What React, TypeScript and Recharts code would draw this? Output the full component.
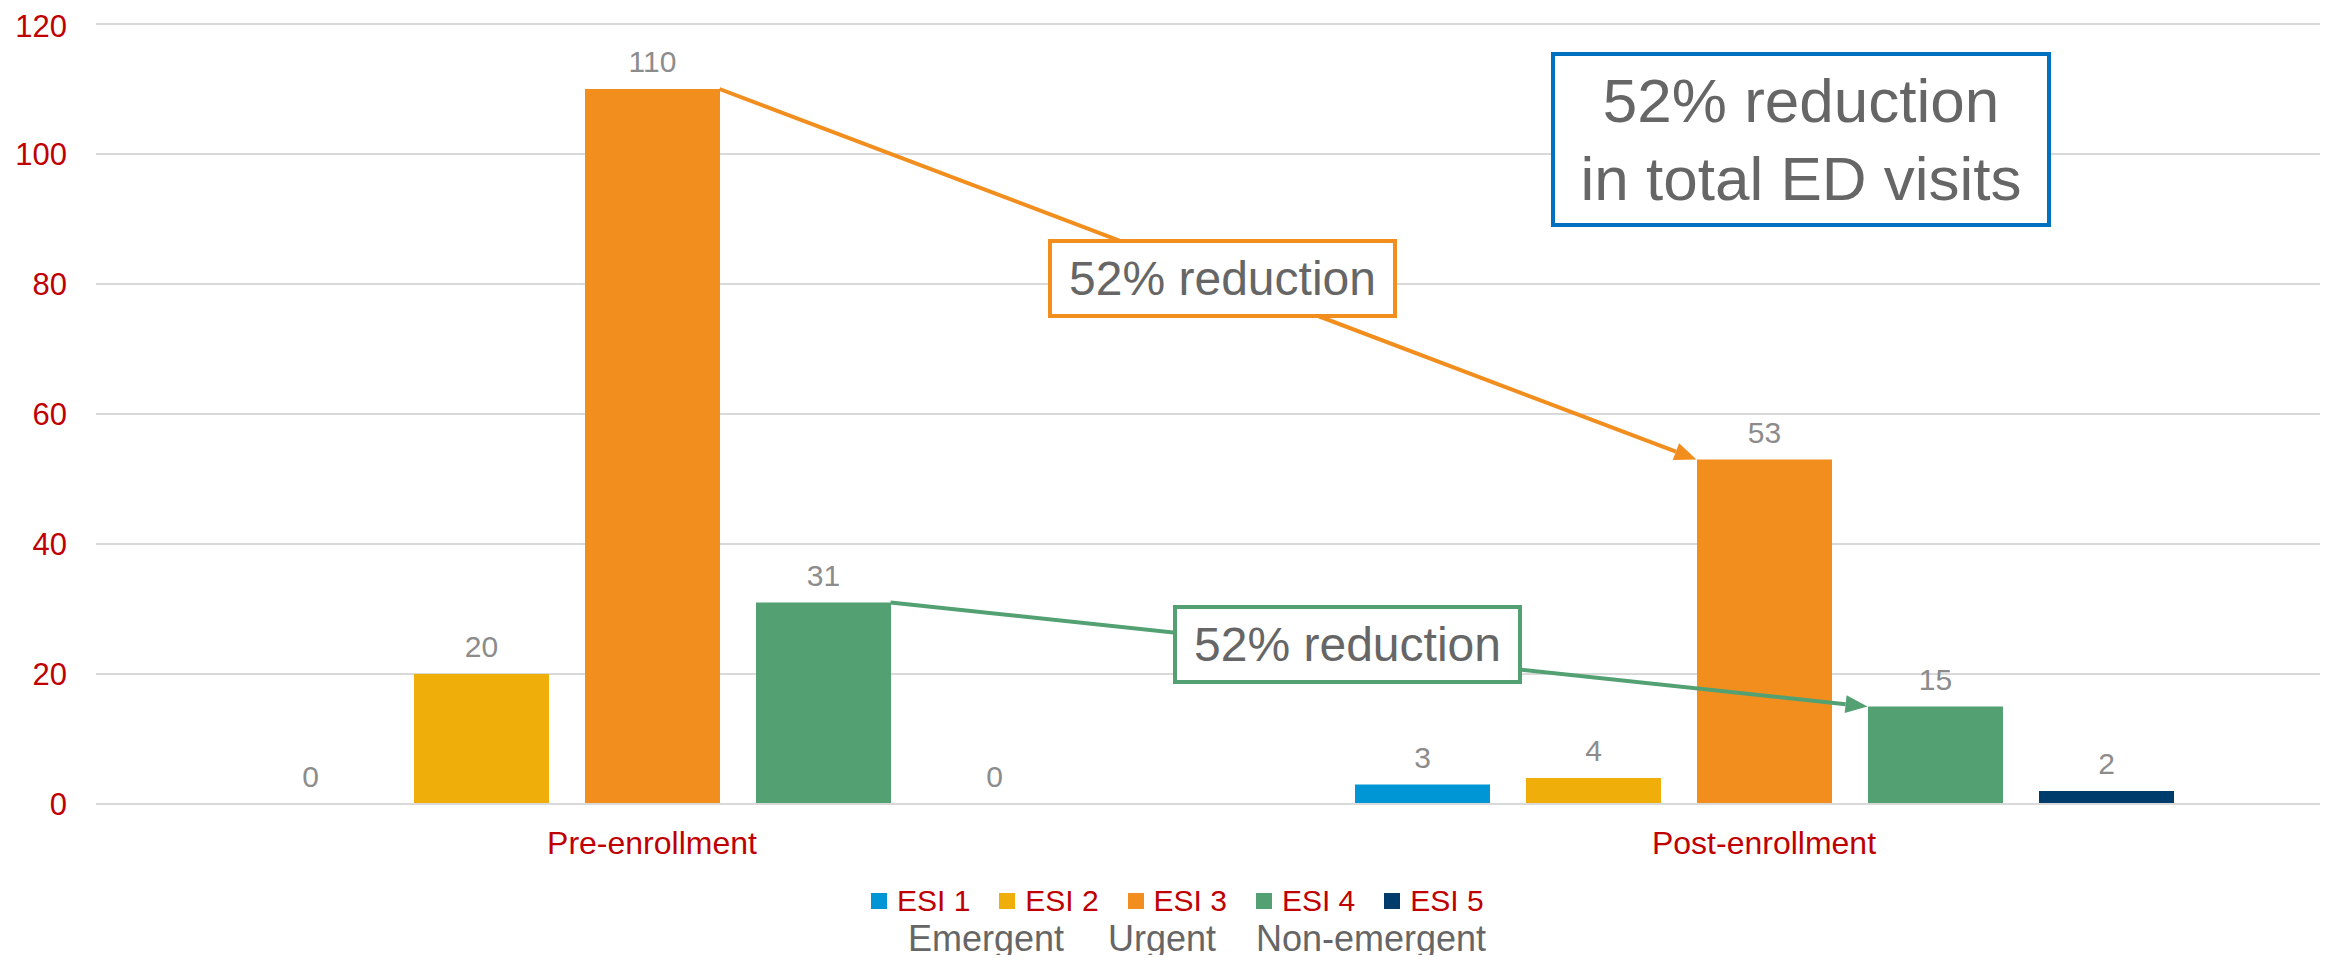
import { BarChart, Bar, XAxis, YAxis, CartesianGrid, LabelList, ReferenceLine } from "recharts";

// ED visits by triage level, before and after enrollment
const categories = ["Pre-enrollment", "Post-enrollment"];
const esi1 = [0, 3];
const esi2 = [20, 4];
const esi3 = [110, 53];
const esi4 = [31, 15];
const esi5 = [0, 2];
const yTicks = [0, 20, 40, 60, 80, 100, 120];

const seriesKeys = ["esi1", "esi2", "esi3", "esi4", "esi5"];
const seriesNames = ["ESI 1", "ESI 2", "ESI 3", "ESI 4", "ESI 5"];
const seriesColors = ["#0096D6", "#EFAE0A", "#F28E1E", "#53A173", "#003C6B"];
const groupNames = ["Emergent", "Urgent", "Non-emergent"];

const rows = categories.map((name, i) => ({
  name,
  esi1: esi1[i],
  esi2: esi2[i],
  esi3: esi3[i],
  esi4: esi4[i],
  esi5: esi5[i],
}));

const W = 2315;
const H = 947;
const MARGIN = { top: 16, right: 3, bottom: 91, left: 0 };
const Y_AXIS_W = 88;
const BAR_SIZE = 135;
const BAR_GAP = 36;

const RED = "#C00000";
const GRAY_TEXT = "#666666";
const FONT = '"Liberation Sans", Arial, sans-serif';

// horizontal offset from the category centre to one edge of a bar
function edgeOffset(series: number, side: -1 | 1) {
  return (series - 2) * (BAR_SIZE + BAR_GAP) + side * (BAR_SIZE / 2);
}

function Arrow(props: any) {
  const { color, fromDx, toDx } = props;
  const x1 = props.x1 + fromDx;
  const y1 = props.y1;
  const x2 = props.x2 + toDx;
  const y2 = props.y2;
  const dx = x2 - x1;
  const dy = y2 - y1;
  const len = Math.hypot(dx, dy) || 1;
  const ux = dx / len;
  const uy = dy / len;
  const head = 22;
  const half = 9;
  const bx = x2 - ux * head;
  const by = y2 - uy * head;
  return (
    <g>
      <line x1={x1} y1={y1} x2={bx} y2={by} stroke={color} strokeWidth={4} />
      <polygon
        points={`${x2},${y2} ${bx - uy * half},${by + ux * half} ${bx + uy * half},${by - ux * half}`}
        fill={color}
      />
    </g>
  );
}

// value label above each bar, zero values included
function ValueLabel(props: any) {
  const { x, y, width, value } = props;
  if (value === undefined || value === null) return null;
  return (
    <text x={x + width / 2} y={y - 17} textAnchor="middle" fill="#8C8C8C" fontSize={30} fontFamily={FONT}>
      {value}
    </text>
  );
}

function NoteBox({ left, top, width, height, color, fontSize, lineHeight, lines }: any) {
  return (
    <div
      style={{
        position: "absolute",
        left,
        top,
        width,
        height,
        boxSizing: "border-box",
        border: `4px solid ${color}`,
        background: "#ffffff",
        display: "flex",
        flexDirection: "column",
        alignItems: "center",
        justifyContent: "center",
        color: GRAY_TEXT,
        fontFamily: FONT,
        fontSize,
        lineHeight: `${lineHeight}px`,
        whiteSpace: "nowrap",
      }}
    >
      {lines.map((t: string, i: number) => (
        <div key={i}>{t}</div>
      ))}
    </div>
  );
}

export default function App() {
  return (
    <div style={{ position: "relative", width: W, height: H, fontFamily: FONT }}>
      <BarChart width={W} height={H} data={rows} margin={MARGIN} barSize={BAR_SIZE} barGap={BAR_GAP}>
        <CartesianGrid vertical={false} stroke="#D9D9D9" strokeWidth={2} />
        <XAxis
          dataKey="name"
          axisLine={{ stroke: "#D9D9D9", strokeWidth: 2 }}
          tickLine={false}
          tickSize={0}
          tickMargin={27}
          height={60}
          tick={{ fill: RED, fontSize: 32, fontFamily: FONT }}
        />
        <YAxis
          width={Y_AXIS_W}
          domain={[0, 120]}
          ticks={yTicks}
          axisLine={false}
          tickLine={false}
          tickSize={0}
          tickMargin={29}
          tick={{ fill: RED, fontSize: 31, fontFamily: FONT }}
        />
        {seriesKeys.map((key, i) => (
          <Bar
            key={key}
            dataKey={key}
            name={seriesNames[i]}
            fill={seriesColors[i]}
            minPointSize={0.01}
            isAnimationActive={false}
          >
            <LabelList dataKey={key} position="top" content={ValueLabel} />
          </Bar>
        ))}
        <ReferenceLine
          ifOverflow="visible"
          segment={[
            { x: categories[0], y: esi3[0] },
            { x: categories[1], y: esi3[1] },
          ]}
          shape={(p: any) => (
            <Arrow {...p} color="#F28E1E" fromDx={edgeOffset(2, 1)} toDx={edgeOffset(2, -1)} />
          )}
        />
        <ReferenceLine
          ifOverflow="visible"
          segment={[
            { x: categories[0], y: esi4[0] },
            { x: categories[1], y: esi4[1] },
          ]}
          shape={(p: any) => (
            <Arrow {...p} color="#53A173" fromDx={edgeOffset(3, 1)} toDx={edgeOffset(3, -1)} />
          )}
        />
      </BarChart>

      <NoteBox left={1040} top={231} width={349} height={79} color="#F28E1E" fontSize={48} lineHeight={55} lines={["52% reduction"]} />
      <NoteBox left={1165} top={597} width={349} height={79} color="#53A173" fontSize={48} lineHeight={55} lines={["52% reduction"]} />
      <NoteBox
        left={1543}
        top={44}
        width={500}
        height={175}
        color="#0070C0"
        fontSize={62}
        lineHeight={78}
        lines={["52% reduction", "in total ED visits"]}
      />

      {/* legend: series swatches, then the triage groups underneath */}
      {seriesNames.map((name, i) => (
        <div
          key={name}
          style={{ position: "absolute", left: 863 + i * 128.3, top: 877, display: "flex", alignItems: "center" }}
        >
          <span style={{ width: 16, height: 16, background: seriesColors[i], marginRight: 10, display: "inline-block" }} />
          <span style={{ color: RED, fontSize: 30, lineHeight: "32px" }}>{name}</span>
        </div>
      ))}
      {groupNames.map((g, i) => (
        <div
          key={g}
          style={{
            position: "absolute",
            left: [900, 1100, 1248][i],
            top: 913,
            color: GRAY_TEXT,
            fontSize: 36,
            lineHeight: "36px",
            whiteSpace: "nowrap",
          }}
        >
          {g}
        </div>
      ))}
    </div>
  );
}
